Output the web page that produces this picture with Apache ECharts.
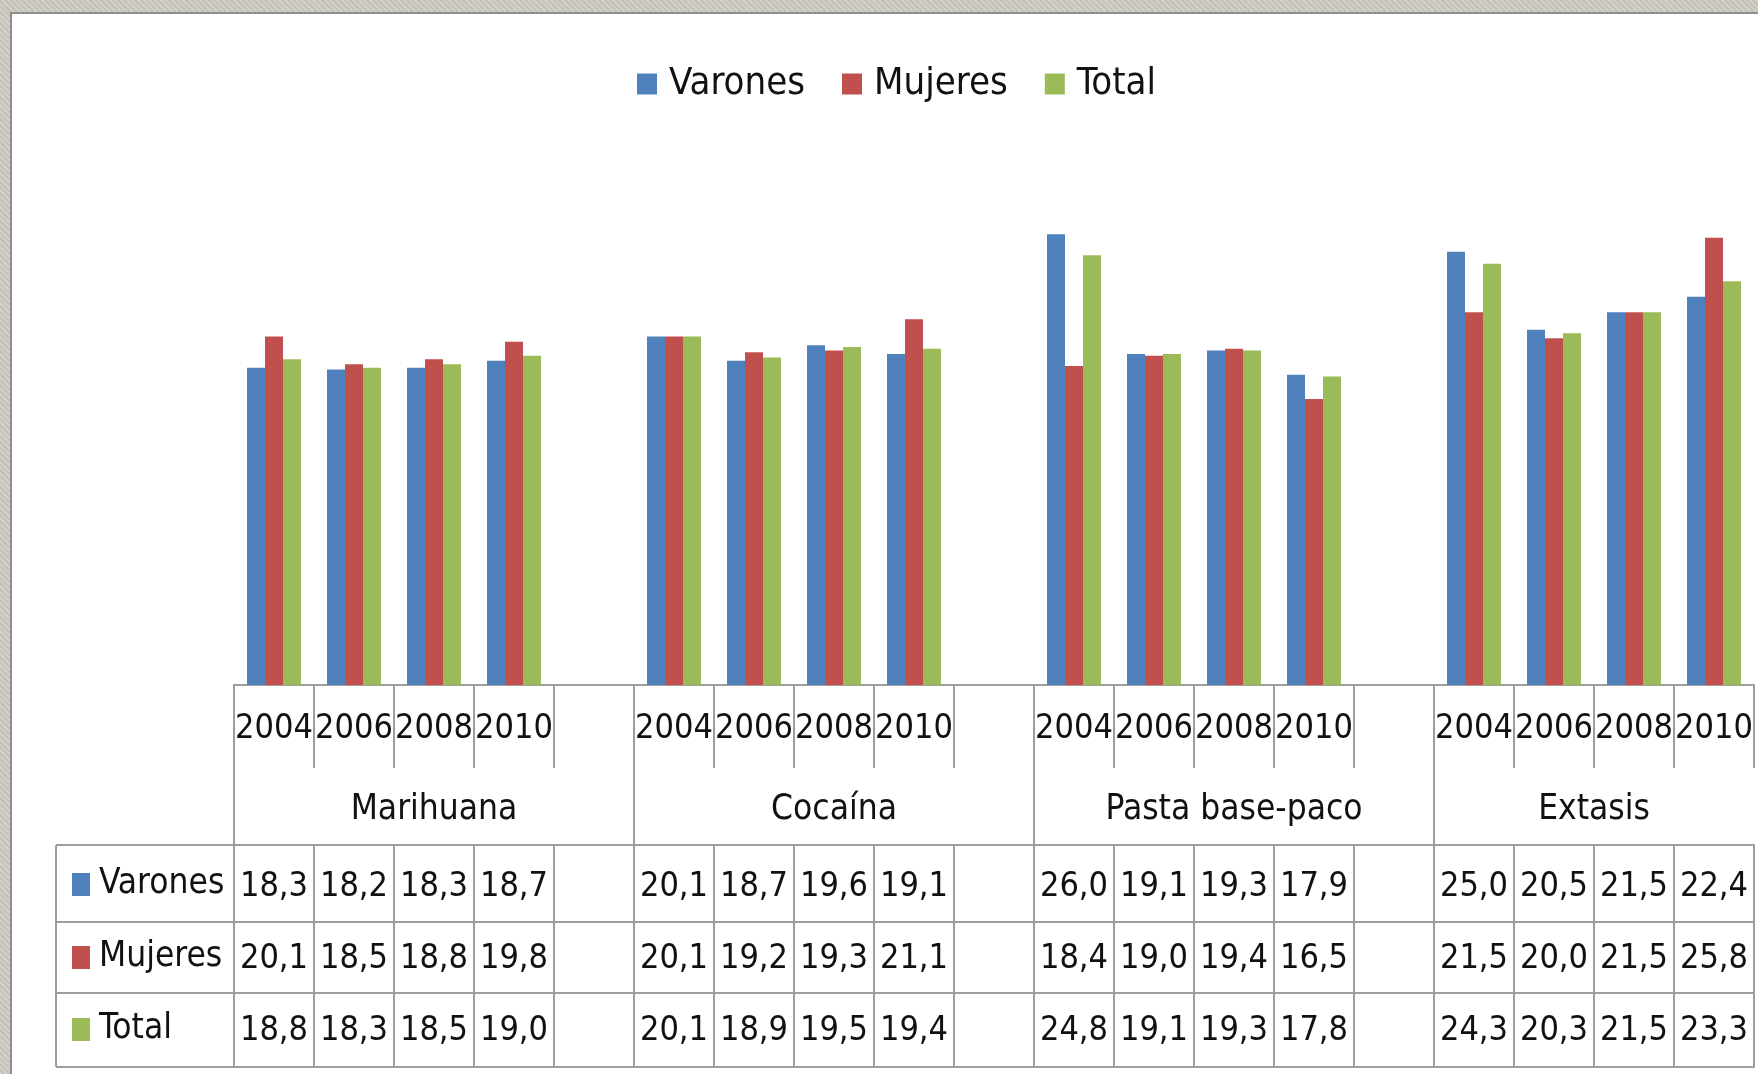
<!DOCTYPE html>
<html>
<head>
<meta charset="utf-8">
<script src="https://cdn.jsdelivr.net/npm/echarts@6/dist/echarts.min.js"></script>
<style>
  html, body { margin: 0; padding: 0; }
  body { width: 1758px; height: 1074px; position: relative; overflow: hidden;
         background: #cac7bf repeating-linear-gradient(45deg, #d3d0c8 0 2px, #c4c1b9 2px 4px); }
  #paper { position: absolute; left: 10px; top: 12px; right: 0; bottom: 0; background: #fff;
           border-left: 2px solid #8e8e8e; border-top: 2px solid #8e8e8e; }
  #chart { position: absolute; left: 0; top: 0; width: 1758px; height: 1074px; }
</style>
</head>
<body>
<div id="paper"></div>
<div id="chart"></div>
<script>
// datos
const drugs = ['Marihuana', 'Cocaína', 'Pasta base-paco', 'Extasis'];
const years = ['2004', '2006', '2008', '2010'];
const seriesNames = ['Varones', 'Mujeres', 'Total'];
const colors = ['#4f81bd', '#c0504d', '#9bbb59'];

const varones = [[18.3, 18.2, 18.3, 18.7], [20.1, 18.7, 19.6, 19.1], [26.0, 19.1, 19.3, 17.9], [25.0, 20.5, 21.5, 22.4]];
const mujeres = [[20.1, 18.5, 18.8, 19.8], [20.1, 19.2, 19.3, 21.1], [18.4, 19.0, 19.4, 16.5], [21.5, 20.0, 21.5, 25.8]];
const total   = [[18.8, 18.3, 18.5, 19.0], [20.1, 18.9, 19.5, 19.4], [24.8, 19.1, 19.3, 17.8], [24.3, 20.3, 21.5, 23.3]];

const font = '"DejaVu Sans Condensed", "Liberation Sans Narrow", "DejaVu Sans", sans-serif';
const lineColor = '#9d9d9d';
const cellFont = 34;

// una columna vacia entre grupos (no despues del ultimo)
const categories = [];
const groupStart = [];
drugs.forEach((d, g) => {
  groupStart.push(categories.length);
  years.forEach(y => categories.push(y));
  if (g < drugs.length - 1) categories.push('');
});

function flat(rows) {
  const out = [];
  rows.forEach((r, g) => {
    r.forEach(v => out.push(v));
    if (g < rows.length - 1) out.push(null);
  });
  return out;
}
const allRows = [varones, mujeres, total].map(flat);
const fmt = v => v == null ? '' : v.toFixed(1).replace('.', ',');

function rowAxis(data, offset, tickLen, margin) {
  return {
    type: 'category', position: 'bottom', offset: offset, data: data, boundaryGap: true,
    axisLine: { show: true, lineStyle: { color: lineColor, width: 2 } },
    axisTick: { show: true, interval: 0, length: tickLen, lineStyle: { color: lineColor, width: 2 } },
    axisLabel: { interval: 0, margin: margin, fontSize: cellFont, fontFamily: font, color: '#111' },
    splitLine: { show: false }
  };
}

const chart = echarts.init(document.getElementById('chart'), null, { renderer: 'canvas' });

const option = {
  backgroundColor: 'transparent',
  animation: false,
  legend: {
    data: seriesNames, left: 632, top: 60, icon: 'rect', itemWidth: 20, itemHeight: 21, itemGap: 37,
    textStyle: { fontSize: 38, fontFamily: font, color: '#111', padding: [0, 0, 0, 7] }
  },
  grid: { left: 234, right: 4, top: 165, bottom: 389, containLabel: false, outerBoundsMode: 'none' },
  xAxis: [
    rowAxis(categories, 0, 83, 27),
    rowAxis(allRows[0].map(fmt), 160, 77, 25),
    rowAxis(allRows[1].map(fmt), 237, 71, 20),
    rowAxis(allRows[2].map(fmt), 308, 74, 21),
    { type: 'category', position: 'bottom', offset: 382, data: categories,
      axisLine: { show: true, lineStyle: { color: lineColor, width: 2 } },
      axisTick: { show: false }, axisLabel: { show: false } }
  ],
  yAxis: { type: 'value', min: 0, max: 30, show: false, splitLine: { show: false } },
  series: seriesNames.map((name, i) => ({
    name: name, type: 'bar', xAxisIndex: 0, barWidth: 18, barGap: '0%',
    itemStyle: { color: colors[i] },
    data: allRows[i].map(v => v == null ? '-' : v)
  }))
};
chart.setOption(option);

// cabecera de grupos y columna de leyenda de la tabla
const px = i => chart.convertToPixel({ xAxisIndex: 0 }, i);
const band = px(1) - px(0);
const baseY = chart.convertToPixel({ yAxisIndex: 0 }, 0);
const rowTops = [160, 237, 308, 382].map(o => baseY + o);
const left = 56;
const gridLeft = px(0) - band / 2;

const graphics = [];
const lineStyle = { stroke: lineColor, lineWidth: 2 };

groupStart.forEach((s, g) => {
  const e = s + years.length - 1 + (g < drugs.length - 1 ? 1 : 0);
  const x0 = px(s) - band / 2;
  graphics.push({ type: 'line', shape: { x1: x0, y1: baseY, x2: x0, y2: rowTops[0] }, style: lineStyle });
  graphics.push({
    type: 'text', x: (px(s) + px(e)) / 2, y: baseY + 125,
    style: { text: drugs[g], fontSize: 35, fontFamily: font, fill: '#111', align: 'center', verticalAlign: 'middle' }
  });
});
rowTops.forEach(y => {
  graphics.push({ type: 'line', shape: { x1: left, y1: y, x2: gridLeft, y2: y }, style: lineStyle });
});
graphics.push({ type: 'line', shape: { x1: left, y1: rowTops[0], x2: left, y2: rowTops[3] }, style: lineStyle });

const labelY = [884, 957, 1029];
seriesNames.forEach((name, i) => {
  graphics.push({ type: 'rect', shape: { x: 72, y: labelY[i] - 11, width: 18, height: 23 }, style: { fill: colors[i] } });
  graphics.push({
    type: 'text', x: 99, y: labelY[i],
    style: { text: name, fontSize: 35, fontFamily: font, fill: '#111', align: 'left', verticalAlign: 'middle' }
  });
});

chart.setOption({ graphic: { elements: graphics } });
</script>
</body>
</html>
